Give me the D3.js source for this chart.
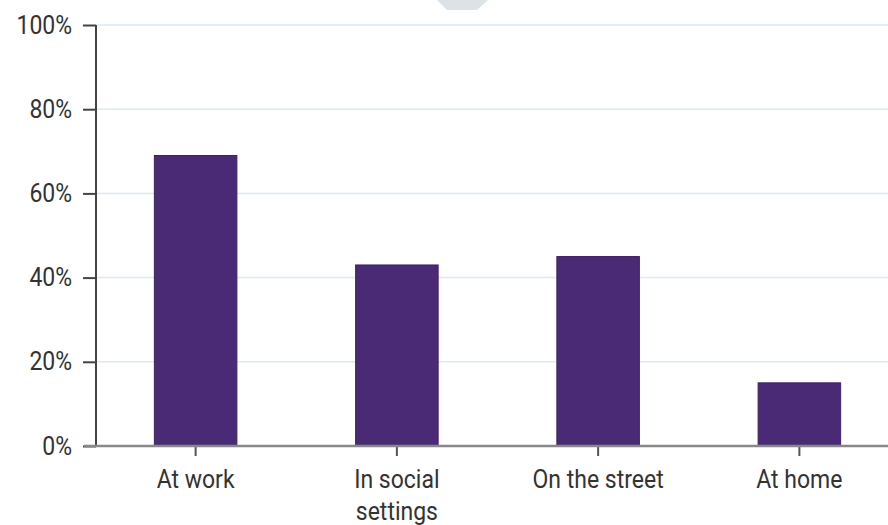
<!DOCTYPE html>
<html>
<head>
<meta charset="utf-8">
<script src="https://cdn.jsdelivr.net/npm/d3@7"></script>
<style>
  body { margin: 0; background: #fff; }
  svg text { font-family: "Roboto", "Liberation Sans", sans-serif; fill: #333; }
</style>
</head>
<body>
<svg id="chart"></svg>
<script>
const categories = ["At work", "In social settings", "On the street", "At home"];
const values = [69, 43, 45, 15];
const yTicks = [0, 20, 40, 60, 80, 100];

const width = 888;
const height = 525;

const svg = d3.select("svg#chart")
  .attr("width", width)
  .attr("height", height);

// faint marker at the top
svg.append("polygon")
  .attr("points", "437,0 488,0 477,10 447,10")
  .attr("fill", "#dce2e6");

const x = d3.scaleBand()
  .range([95, 900])
  .domain(categories)
  .paddingInner(0.59)
  .paddingOuter(0.295);

const y = d3.scaleLinear()
  .range([446, 25])
  .domain([0, 100]);

// gridlines
svg.append("g")
  .selectAll("line")
  .data(yTicks.filter(d => d > 0))
  .enter()
  .append("line")
  .attr("x1", 96)
  .attr("x2", width)
  .attr("y1", d => y(d))
  .attr("y2", d => y(d))
  .attr("stroke", "#dceaf2")
  .attr("stroke-width", 1.5);

// bars
svg.selectAll("bars")
  .data(values)
  .enter()
  .append("rect")
  .attr("x", (d, i) => x(categories[i]))
  .attr("y", d => y(d))
  .attr("width", x.bandwidth())
  .attr("height", d => y(0) - y(d))
  .attr("fill", "#4a2a74")
  .attr("stroke", "#3d2163")
  .attr("stroke-width", 1);

// Y axis
const yAxis = svg.append("g")
  .attr("transform", "translate(96,0)")
  .call(d3.axisLeft(y).tickValues(yTicks).tickSize(13).tickPadding(13).tickFormat(d => d + "%"));
yAxis.select(".domain").remove();
yAxis.append("line")
  .attr("x1", 0).attr("x2", 0)
  .attr("y1", y(100)).attr("y2", y(0))
  .attr("stroke", "#444").attr("stroke-width", 2);
yAxis.selectAll(".tick line").attr("stroke", "#444").attr("stroke-width", 2);
yAxis.selectAll(".tick text")
  .attr("font-size", 25)
  .attr("font-family", null)
  .attr("transform", "scale(0.92,1)")
  .style("fill", "#333");

// X axis
const xAxis = svg.append("g")
  .attr("transform", `translate(0,${y(0)})`)
  .call(d3.axisBottom(x).tickSize(10).tickPadding(14));
xAxis.select(".domain").remove();
xAxis.append("line")
  .attr("x1", 84).attr("x2", width)
  .attr("y1", 0).attr("y2", 0)
  .attr("stroke", "#888").attr("stroke-width", 2.5);
xAxis.selectAll(".tick line").attr("stroke", "#555").attr("stroke-width", 2);
xAxis.selectAll(".tick text")
  .attr("font-size", 25)
  .attr("font-family", null)
  .attr("transform", "scale(0.92,1)")
  .style("fill", "#333")
  .each(function(d) {
    const t = d3.select(this);
    if (d === "In social settings") {
      t.text(null);
      t.append("tspan").attr("x", 0).attr("dy", "0.71em").text("In social");
      t.append("tspan").attr("x", 0).attr("dy", "1.3em").text("settings");
      t.attr("dy", null);
    }
  });
</script>
</body>
</html>
